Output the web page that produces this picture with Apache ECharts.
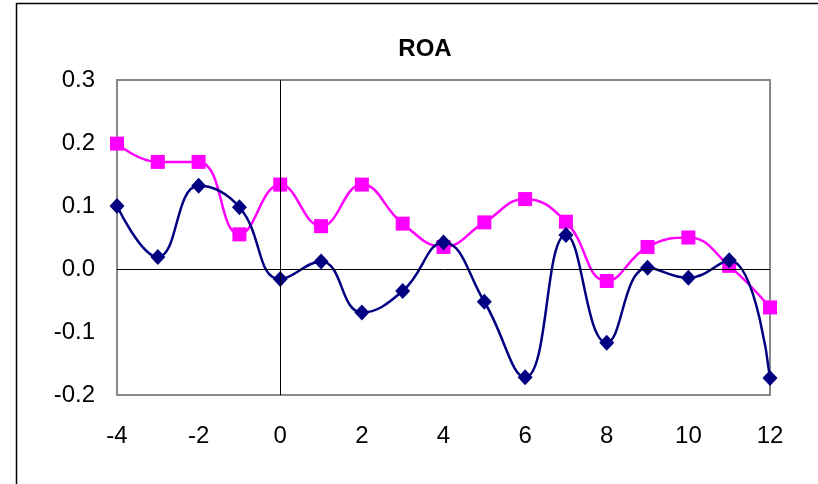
<!DOCTYPE html>
<html>
<head>
<meta charset="utf-8">
<script src="https://cdn.jsdelivr.net/npm/echarts@6/dist/echarts.min.js"></script>
<style>
  html, body { margin: 0; padding: 0; background: #fff; }
  #chart { width: 818px; height: 484px; }
</style>
</head>
<body>
<div id="chart"></div>
<script>
// Event time (years relative to event)
const eventTime = [-4, -3, -2, -1, 0, 1, 2, 3, 4, 5, 6, 7, 8, 9, 10, 11, 12];
// ROA series
const roaNavy = [0.100, 0.019, 0.132, 0.098, -0.016, 0.012, -0.069, -0.035, 0.042, -0.052, -0.172, 0.054, -0.117, 0.002, -0.014, 0.014, -0.173];
const roaMagenta = [0.199, 0.170, 0.170, 0.055, 0.134, 0.068, 0.134, 0.072, 0.035, 0.074, 0.111, 0.075, -0.019, 0.035, 0.050, 0.005, -0.061];
// Axis settings
const xTicks = { min: -4, max: 12, step: 2 };
const yTicks = { min: -0.2, max: 0.3, step: 0.1 };

const pairs = (ys) => eventTime.map((x, i) => [x, ys[i]]);

const chart = echarts.init(document.getElementById('chart'), null, { renderer: 'canvas' });
chart.setOption({
  backgroundColor: '#ffffff',
  animation: false,
  title: {
    text: 'ROA',
    left: 420,
    top: 32,
    textAlign: 'center',
    textStyle: { fontFamily: 'Liberation Sans, Arial, sans-serif', fontSize: 24, fontWeight: 'bold', color: '#000' }
  },
  graphic: [{
    type: 'rect',
    shape: { x: 16.5, y: 3.5, width: 900, height: 600 },
    style: { fill: 'none', stroke: '#000', lineWidth: 1.5 },
    silent: true
  }],
  grid: {
    left: 117, right: 48, top: 80, bottom: 89,
    show: true, borderColor: '#888888', borderWidth: 2, backgroundColor: 'transparent'
  },
  xAxis: {
    type: 'value',
    min: xTicks.min, max: xTicks.max, interval: xTicks.step,
    axisLine: { show: false }, axisTick: { show: false }, splitLine: { show: false },
    axisLabel: { margin: 29, fontFamily: 'Liberation Sans, Arial, sans-serif', fontSize: 24, color: '#000' }
  },
  yAxis: {
    type: 'value',
    min: yTicks.min, max: yTicks.max, interval: yTicks.step,
    axisLine: { show: false }, axisTick: { show: false }, splitLine: { show: false },
    axisLabel: {
      margin: 22, fontFamily: 'Liberation Sans, Arial, sans-serif', fontSize: 24, color: '#000',
      formatter: (v) => (Math.abs(v) < 1e-9 ? 0 : v).toFixed(1)
    }
  },
  series: [
    {
      name: 'axes',
      type: 'line',
      data: [],
      markLine: {
        silent: true, symbol: 'none', animation: false,
        label: { show: false },
        lineStyle: { color: '#000', width: 1, type: 'solid' },
        data: [{ xAxis: 0 }, { yAxis: 0 }]
      }
    },
    {
      name: 'ROA 1',
      type: 'line',
      data: pairs(roaMagenta),
      smooth: 0.45,
      symbol: 'rect',
      symbolSize: 14,
      lineStyle: { color: '#ff00ff', width: 2.5 },
      itemStyle: { color: '#ff00ff' },
      z: 3
    },
    {
      name: 'ROA 2',
      type: 'line',
      data: pairs(roaNavy),
      smooth: 0.45,
      symbol: 'diamond',
      symbolSize: [15, 16],
      lineStyle: { color: '#000080', width: 2.5 },
      itemStyle: { color: '#000080' },
      z: 4
    }
  ]
});
</script>
</body>
</html>
